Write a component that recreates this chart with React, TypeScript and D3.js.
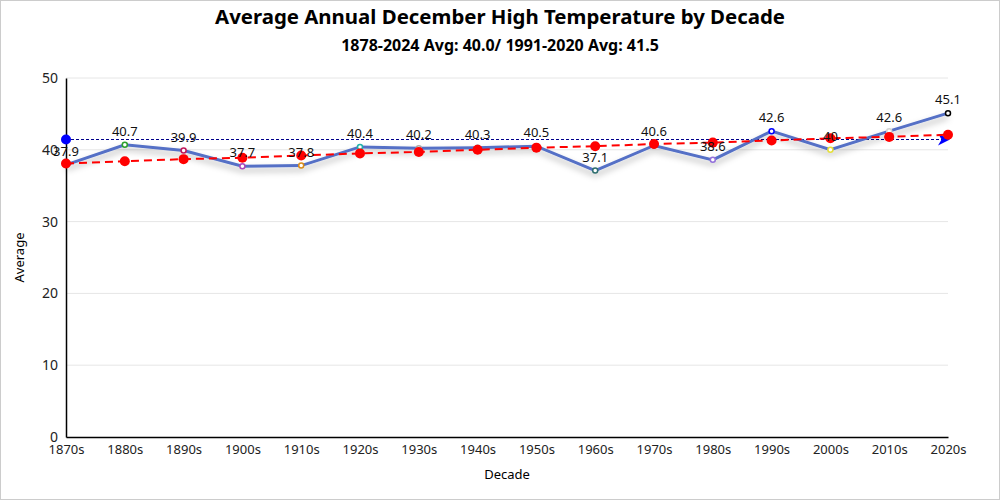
import { useEffect, useRef } from 'react';
import * as d3 from 'd3';

const decades = ['1870s', '1880s', '1890s', '1900s', '1910s', '1920s', '1930s', '1940s', '1950s', '1960s', '1970s', '1980s', '1990s', '2000s', '2010s', '2020s'];
const averages = [37.9, 40.7, 39.9, 37.7, 37.8, 40.4, 40.2, 40.3, 40.5, 37.1, 40.6, 38.6, 42.6, 40, 42.6, 45.1];
const trend = [38.1, 38.4, 38.7, 38.9, 39.2, 39.5, 39.7, 40.0, 40.3, 40.5, 40.8, 41.0, 41.3, 41.6, 41.8, 42.1];
const markerColors = ['#e5322d', '#2ca02c', '#c2185b', '#ab47bc', '#d98c1a', '#20b2aa', '#a9a9a9', '#888888', '#999999', '#2f6f6f', '#777777', '#9370db', '#0000ff', '#e6e03a', '#d3d3d3', '#000000'];
const normal = 41.5;
const yTicks = [0, 10, 20, 30, 40, 50];

const W = 1000;
const H = 500;
const FONT = '"Noto Sans", "Open Sans", sans-serif';

export default function App() {
  const ref = useRef<SVGSVGElement | null>(null);

  useEffect(() => {
    if (!ref.current) return;
    const svg = d3.select(ref.current);
    svg.selectAll('*').remove();

    const margin = { top: 78, right: 52, bottom: 63, left: 66 };

    const x = d3
      .scalePoint<string>()
      .domain(decades)
      .range([margin.left, W - margin.right]);
    const y = d3.scaleLinear().domain([0, 50]).range([H - margin.bottom, margin.top]);

    const defs = svg.append('defs');
    const f = defs.append('filter').attr('id', 'shadow').attr('x', '-10%').attr('y', '-50%').attr('width', '120%').attr('height', '200%');
    f.append('feDropShadow').attr('dx', 0).attr('dy', 4).attr('stdDeviation', 3).attr('flood-color', '#000').attr('flood-opacity', 0.3);

    defs
      .append('marker')
      .attr('id', 'arrow')
      .attr('viewBox', '0 0 10 10')
      .attr('refX', 10)
      .attr('refY', 5)
      .attr('markerWidth', 16)
      .attr('markerHeight', 12)
      .attr('markerUnits', 'userSpaceOnUse')
      .attr('orient', 'auto')
      .append('path')
      .attr('d', 'M0,0 L10,5 L0,10 L3,5 Z')
      .attr('fill', '#0000ff');

    svg.append('rect').attr('x', 0.5).attr('y', 0.5).attr('width', W - 1).attr('height', H - 1).attr('fill', '#fff').attr('stroke', '#ccc');

    // grid
    svg
      .append('g')
      .selectAll('line')
      .data(yTicks.filter((t) => t > 0))
      .join('line')
      .attr('x1', margin.left)
      .attr('x2', W - margin.right)
      .attr('y1', (d) => y(d))
      .attr('y2', (d) => y(d))
      .attr('stroke', '#e6e6e6');

    // y axis
    const yAxis = svg
      .append('g')
      .attr('transform', `translate(${margin.left},0)`)
      .call(d3.axisLeft(y).tickValues(yTicks).tickSize(0).tickPadding(8));
    yAxis.select('.domain').attr('stroke', '#000').attr('stroke-width', 1.5);
    yAxis.selectAll('text').attr('font-size', 14).attr('font-family', FONT).attr('fill', '#222');

    // x axis
    const xAxis = svg
      .append('g')
      .attr('transform', `translate(0,${H - margin.bottom})`)
      .call(d3.axisBottom(x).tickSize(0).tickPadding(8));
    xAxis.select('.domain').attr('stroke', '#000').attr('stroke-width', 1.5);
    xAxis.selectAll('text').attr('font-size', 13).attr('font-family', FONT).attr('fill', '#222');

    // normal line
    const ny = Math.round(y(normal)) + 0.5;
    svg
      .append('line')
      .attr('x1', margin.left)
      .attr('x2', W - margin.right + 2)
      .attr('y1', ny)
      .attr('y2', ny)
      .attr('stroke', '#00008b')
      .attr('stroke-width', 1)
      .attr('stroke-dasharray', '3,2')
      .attr('shape-rendering', 'crispEdges')
      .attr('marker-end', 'url(#arrow)');
    svg.append('circle').attr('cx', margin.left).attr('cy', ny).attr('r', 5).attr('fill', '#0000ff');

    // main line
    const line = d3
      .line<number>()
      .x((_, i) => x(decades[i]) as number)
      .y((d) => y(d));
    svg
      .append('path')
      .datum(averages)
      .attr('d', line)
      .attr('fill', 'none')
      .attr('stroke', '#5470c6')
      .attr('stroke-width', 3)
      .attr('filter', 'url(#shadow)');
    svg
      .append('g')
      .selectAll('circle')
      .data(averages)
      .join('circle')
      .attr('cx', (_, i) => x(decades[i]) as number)
      .attr('cy', (d) => y(d))
      .attr('r', 2.5)
      .attr('fill', '#fff')
      .attr('stroke', (_, i) => markerColors[i])
      .attr('stroke-width', 1.5);

    // trend line
    svg
      .append('path')
      .datum(trend)
      .attr('d', line)
      .attr('fill', 'none')
      .attr('stroke', '#ff0000')
      .attr('stroke-width', 2)
      .attr('stroke-dasharray', '8,5');
    svg
      .append('g')
      .selectAll('circle')
      .data(trend)
      .join('circle')
      .attr('cx', (_, i) => x(decades[i]) as number)
      .attr('cy', (d) => y(d))
      .attr('r', 5)
      .attr('fill', '#ff0000');

    // labels
    svg
      .append('g')
      .selectAll('text')
      .data(averages)
      .join('text')
      .attr('x', (_, i) => x(decades[i]) as number)
      .attr('y', (d) => y(d) - 9)
      .attr('text-anchor', 'middle')
      .attr('font-size', 13)
      .attr('font-family', FONT)
      .attr('fill', '#111')
      .text((d) => String(d));

    // titles
    svg
      .append('text')
      .attr('x', W / 2)
      .attr('y', 24)
      .attr('text-anchor', 'middle')
      .attr('font-size', 20.4)
      .attr('font-weight', 'bold')
      .attr('font-family', FONT)
      .text('Average Annual December High Temperature by Decade');
    svg
      .append('text')
      .attr('x', W / 2)
      .attr('y', 51)
      .attr('text-anchor', 'middle')
      .attr('font-size', 16)
      .attr('font-weight', 'bold')
      .attr('font-family', FONT)
      .text('1878-2024 Avg: 40.0/ 1991-2020 Avg: 41.5');
    svg
      .append('text')
      .attr('transform', `translate(24,${(y(0) + y(50)) / 2}) rotate(-90)`)
      .attr('text-anchor', 'middle')
      .attr('font-size', 13)
      .attr('font-family', FONT)
      .text('Average');
    svg
      .append('text')
      .attr('x', (margin.left + W - margin.right) / 2)
      .attr('y', 479)
      .attr('text-anchor', 'middle')
      .attr('font-size', 13)
      .attr('font-family', FONT)
      .text('Decade');
  }, []);

  return (
    <div style={{ position: 'fixed', left: 0, top: 0 }}>
      <svg ref={ref} width={W} height={H} style={{ display: 'block' }} />
    </div>
  );
}
